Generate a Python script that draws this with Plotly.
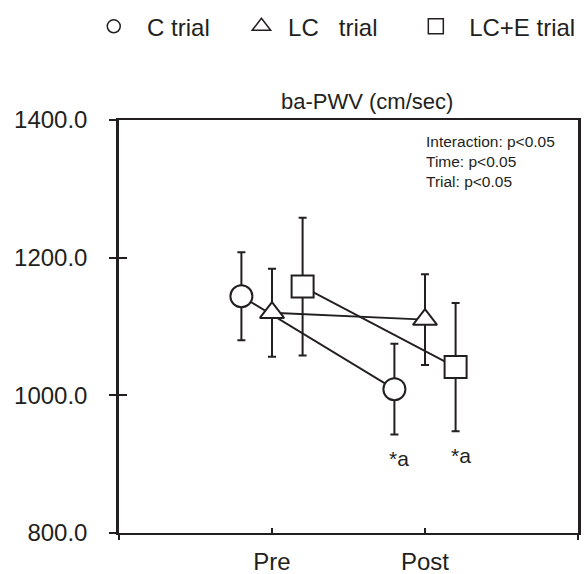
import plotly.graph_objects as go

# ---- data ----
categories = ["Pre", "Post"]
trial_names = ["C trial", "LC   trial", "LC+E trial"]
c_mean = [1144, 1009]
c_sd = [64, 66]
lc_mean = [1120, 1110]
lc_sd = [64, 66]
lce_mean = [1158, 1041]
lce_sd = [100, 93]
y_ticks = [800, 1000, 1200, 1400]
stats_lines = ["Interaction: p<0.05", "Time: p<0.05", "Trial: p<0.05"]
sig_label = "*a"
sig_trials = [0, 2]  # C trial and LC+E trial at Post

means = [c_mean, lc_mean, lce_mean]
sds = [c_sd, lc_sd, lce_sd]

# ---- style ----
INK = "#231f20"
FONT = "Liberation Sans, Arial, sans-serif"
symbols = ["circle", "triangle-up", "square"]
sizes = [22, 21, 22]
legend_sizes = [13, 16, 15]
offsets = [-0.2, 0.0, 0.2]
legend_labels = ["\u00a0\u00a0C trial\u00a0\u00a0\u00a0\u00a0",
                 "\u00a0LC\u00a0\u00a0\u00a0trial\u00a0\u00a0\u00a0\u00a0\u00a0",
                 "\u00a0\u00a0LC+E trial"]

base_x = list(range(1, len(categories) + 1))

fig = go.Figure()

# lines + error bars (beneath markers)
for i in range(3):
    xs = [b + offsets[i] for b in base_x]
    fig.add_trace(go.Scatter(
        x=xs, y=means[i], mode="lines",
        line=dict(color=INK, width=1.8),
        error_y=dict(type="data", array=sds[i], visible=True,
                     color=INK, thickness=2, width=4),
        showlegend=False, hoverinfo="skip"))

# markers on top
for i in range(3):
    xs = [b + offsets[i] for b in base_x]
    fig.add_trace(go.Scatter(
        x=xs, y=means[i], mode="markers",
        marker=dict(symbol=symbols[i], size=sizes[i], color="white",
                    line=dict(color=INK, width=2)),
        showlegend=False, name=trial_names[i]))

# legend-only entries
for i in range(3):
    fig.add_trace(go.Scatter(
        x=[None], y=[None], mode="markers", name=legend_labels[i],
        marker=dict(symbol=symbols[i], size=legend_sizes[i], color="white",
                    line=dict(color=INK, width=1.5)),
        showlegend=True))

# significance labels
for i in sig_trials:
    fig.add_annotation(
        x=base_x[1] + offsets[i], y=means[i][1] - sds[i][1],
        xref="x", yref="y", text=sig_label, showarrow=False,
        xshift=5, yshift=-24, yanchor="middle",
        font=dict(family=FONT, size=21, color=INK))

# title inside top
fig.add_annotation(x=0.54, y=1.0436, xref="paper", yref="paper",
                   text="ba-PWV (cm/sec)", showarrow=False,
                   xanchor="center", yanchor="middle",
                   font=dict(family=FONT, size=22, color=INK))

# stats text
fig.add_annotation(x=0.665, y=0.974, xref="paper", yref="paper",
                   text="<br>".join(stats_lines), showarrow=False,
                   xanchor="left", yanchor="top", align="left",
                   font=dict(family=FONT, size=15.5, color=INK))

fig.update_layout(
    width=587, height=574,
    margin=dict(l=119, r=9, t=120, b=41, autoexpand=False),
    paper_bgcolor="white", plot_bgcolor="white",
    font=dict(family=FONT, size=24, color=INK),
    showlegend=True,
    legend=dict(orientation="h", x=-0.055, xanchor="left",
                y=1.226, yanchor="middle", bgcolor="rgba(0,0,0,0)",
                font=dict(family=FONT, size=24, color=INK),
                traceorder="normal"),
    xaxis=dict(range=[0, len(categories) + 1], tickvals=base_x,
               ticktext=categories, showgrid=False, zeroline=False,
               showline=True, linecolor=INK, linewidth=2, mirror=True,
               ticks="inside", ticklen=5, tickwidth=2, tickcolor=INK,
               tickfont=dict(family=FONT, size=24, color=INK),
               ticklabelstandoff=6, automargin=False),
    xaxis2=dict(range=[0, len(categories) + 1], overlaying="x",
                tickvals=[0, len(categories) + 1], showticklabels=False,
                showgrid=False, zeroline=False, showline=False,
                ticks="outside", ticklen=6, tickwidth=2, tickcolor=INK,
                anchor="y", side="bottom", automargin=False),
    yaxis=dict(range=[800, 1400], tickvals=y_ticks,
               ticktext=[f"{v:.1f}" for v in y_ticks],
               showgrid=False, zeroline=False,
               showline=True, linecolor=INK, linewidth=2.5, mirror=True,
               ticks="outside", ticklen=7, tickwidth=2, tickcolor=INK,
               tickfont=dict(family=FONT, size=24, color=INK),
               ticklabelstandoff=17, automargin=False),
    yaxis2=dict(range=[800, 1400], overlaying="y", tickvals=y_ticks,
                showticklabels=False, showgrid=False, zeroline=False,
                showline=False, ticks="inside", ticklen=8, tickwidth=2,
                tickcolor=INK, anchor="x", side="left", automargin=False),
)

# dummy trace to activate overlay axes
fig.add_trace(go.Scatter(x=[None], y=[None], xaxis="x2", yaxis="y2",
                         showlegend=False, hoverinfo="skip"))

fig.write_html("out.html")
